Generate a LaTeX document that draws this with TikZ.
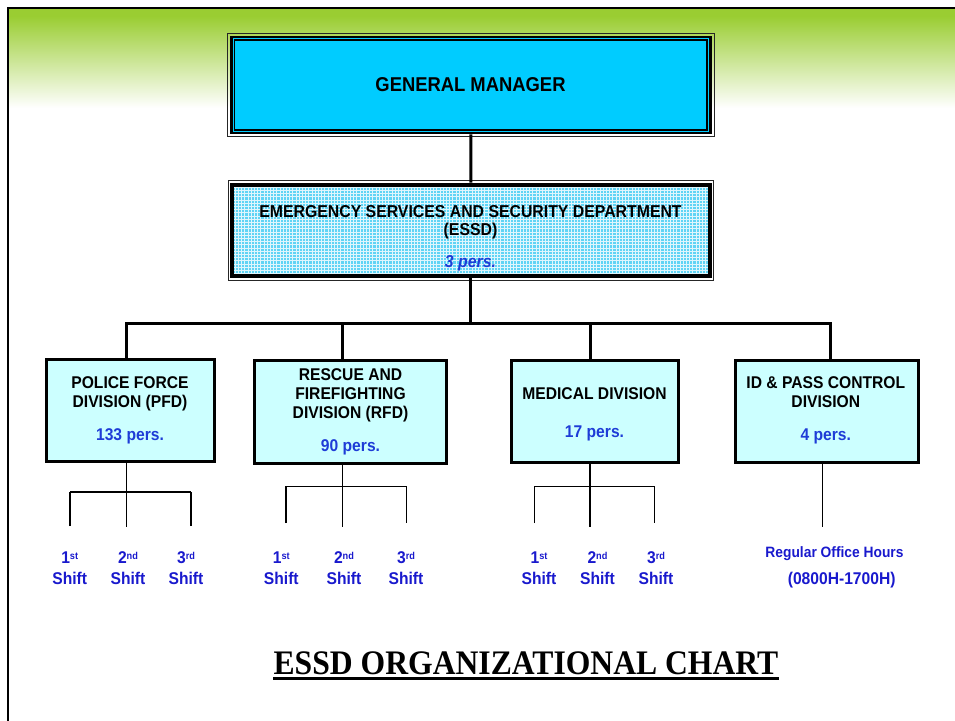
\documentclass[tikz,border=0pt]{standalone}
\usepackage{fontspec}
\setmainfont{Liberation Sans}[FakeStretch=0.92]
\newfontfamily\titleserif{Liberation Serif}[FakeStretch=0.92]
\usetikzlibrary{calc,patterns}

\definecolor{headgreen}{RGB}{154,205,50}
\definecolor{gmcyan}{RGB}{0,204,255}
\definecolor{essdcyan}{RGB}{95,212,245}
\definecolor{essdlight}{RGB}{222,246,253}
\definecolor{divcyan}{RGB}{204,255,255}
\definecolor{persblue}{RGB}{30,60,215}
\definecolor{shiftblue}{RGB}{25,25,205}

\newcommand\ptsize[2]{\fontsize{#1}{#2}\selectfont}
\newcommand\ordsup[1]{\raisebox{4.5pt}{\ptsize{10}{10}#1}}
\newcommand\cellstack[1]{\begin{tabular}[t]{@{}c@{}}#1\end{tabular}}

% fine checked texture of the department box
\pgfdeclarepatternformonly{essdgrid}{\pgfqpoint{-1pt}{-1pt}}{\pgfqpoint{4.2pt}{4.2pt}}{\pgfqpoint{3.2pt}{3.2pt}}{
  \pgfsetlinewidth{0.9pt}
  \pgfpathmoveto{\pgfqpoint{0pt}{1.6pt}}\pgfpathlineto{\pgfqpoint{3.2pt}{1.6pt}}
  \pgfpathmoveto{\pgfqpoint{1.6pt}{0pt}}\pgfpathlineto{\pgfqpoint{1.6pt}{3.2pt}}
  \pgfusepath{stroke}}

\tikzset{
  frameline/.style={line width=2.5pt},
  gmbox/.style={draw, line width=2.7pt, fill=gmcyan, inner sep=0pt},
  essdbox/.style={draw, line width=4pt, inner sep=0pt,
    preaction={fill=essdcyan}, preaction={pattern=essdgrid, pattern color=essdlight}},
  divbox/.style={draw, line width=3pt, fill=divcyan, inner sep=0pt},
  thinframe/.style={line width=1pt, black!85},
  innerframe/.style={line width=1.1pt},
  gmtext/.style={anchor=base, inner sep=0pt, font={\bfseries\ptsize{20}{24}}},
  essdtext/.style={anchor=base, inner sep=0pt, font={\bfseries\ptsize{17.2}{18.2}}},
  divtext/.style={anchor=base, inner sep=0pt, font={\bfseries\ptsize{17}{19.2}}},
  shiftlabel/.style={anchor=base, inner sep=0pt, text=shiftblue, font={\bfseries\ptsize{17}{21}}},
  hourlabel/.style={anchor=base, inner sep=0pt, text=shiftblue, font={\bfseries\ptsize{15}{18}}},
  conn/.style={line width=3pt},
  sub/.style={line width=1.4pt},
  subbar/.style={line width=2.3pt},
}

\begin{document}
\begin{tikzpicture}[x=1pt,y=-1pt]
\useasboundingbox (0,0) rectangle (955,720);
\clip (0,0) rectangle (955,720);

% page header band and frame
\fill[headgreen] (8,8) rectangle (960,16);
\shade[top color=headgreen, middle color=headgreen!40!white, bottom color=white] (8,16) rectangle (960,108);
\draw[frameline] (8,8) rectangle (1000,800);

% boxes
\node[gmbox, minimum width=479pt, minimum height=96pt] (gm) at (470.8,85) {};
\node[essdbox, minimum width=477.5pt, minimum height=91.3pt] (essd) at (470.75,230.35) {};
\node[divbox, minimum width=168pt, minimum height=102pt] (pfd) at (130.5,410.5) {};
\node[divbox, minimum width=191.4pt, minimum height=102.7pt] (rfd) at (350.5,412.15) {};
\node[divbox, minimum width=167pt, minimum height=102pt] (med) at (595,411.5) {};
\node[divbox, minimum width=182.7pt, minimum height=102pt] (idd) at (827.15,411.5) {};

% extra frame lines round the two top boxes
\draw[thinframe] ($(gm.north west)+(-2.4,-2)$) rectangle ($(gm.south east)+(2.4,2)$);
\draw[innerframe] ($(gm.north west)+(4.7,4.35)$) rectangle ($(gm.south east)+(-4.7,-4.35)$);
\draw[thinframe] ($(essd.north west)+(-2,-2)$) rectangle ($(essd.south east)+(2,2)$);

% box texts
\node[gmtext] (gm-label) at (470.5,91) {GENERAL MANAGER};
\node[essdtext] (essd-label) at (470.5,217.3)
  {\cellstack{EMERGENCY SERVICES AND SECURITY DEPARTMENT\\(ESSD)\\[13.8pt]{\color{persblue}\itshape 3 pers.}}};
\node[divtext] (pfd-label) at (130,388.3)
  {\cellstack{POLICE FORCE\\DIVISION (PFD)\\[13.7pt]{\color{persblue}133 pers.}}};
\node[divtext] (rfd-label) at (350.5,380)
  {\cellstack{RESCUE AND\\FIREFIGHTING\\DIVISION (RFD)\\[13.8pt]{\color{persblue}90 pers.}}};
\node[divtext] (med-label) at (594.5,399.3)
  {\cellstack{MEDICAL DIVISION\\[19pt]{\color{persblue}17 pers.}}};
\node[divtext] (idd-label) at (825.8,388.3)
  {\cellstack{ID \& PASS CONTROL\\DIVISION\\[13.7pt]{\color{persblue}4 pers.}}};

% main connectors
\coordinate (bus-l) at (126.5,323.5);
\coordinate (bus-rfd) at (342.5,323.5);
\coordinate (bus-med) at (590.5,323.5);
\coordinate (bus-r) at (830.5,323.5);
\draw[conn] (gm) -- (essd);
\draw[conn] (essd.south) -- (essd.south |- bus-l);
\draw[conn] (bus-l |- pfd.north) -- (bus-l) -- (bus-r) -- (bus-r |- idd.north);
\draw[conn] (bus-rfd) -- (bus-rfd |- rfd.north);
\draw[conn] (bus-med) -- (bus-med |- med.north);

% shift branches
\coordinate (pfd-drop) at (126.7,527);
\coordinate (pfd-bar-l) at (70,491.7);
\coordinate (pfd-bar-r) at (191,491.7);
\coordinate (pfd-leg-l) at (70,526);
\coordinate (pfd-leg-r) at (191,526);
\draw[sub] (pfd-drop |- pfd.south) -- (pfd-drop);
\draw[sub] (pfd-leg-l) -- (pfd-bar-l);
\draw[sub] (pfd-leg-r) -- (pfd-bar-r);
\draw[subbar] (pfd-bar-l) -- (pfd-bar-r);

\coordinate (rfd-drop) at (342.3,527);
\coordinate (rfd-leg-l) at (286,523);
\coordinate (rfd-bar-r) at (406.7,486.7);
\coordinate (rfd-leg-r) at (406.7,523);
\draw[sub] (rfd-drop |- rfd.south) -- (rfd-drop);
\draw[sub] (rfd-leg-l) |- (rfd-bar-r) -- (rfd-leg-r);

\coordinate (med-drop) at (590,527);
\coordinate (med-leg-l) at (534.3,523);
\coordinate (med-bar-r) at (654.3,486.7);
\coordinate (med-leg-r) at (654.3,523);
\draw[sub] (med-drop |- med.south) -- (med-drop);
\draw[sub] (med-leg-l) |- (med-bar-r) -- (med-leg-r);

\coordinate (idd-drop) at (822.3,527.3);
\draw[sub] (idd-drop |- idd.south) -- (idd-drop);

% shift labels
\node[shiftlabel] (pfd-s1) at (69.7,563.5) {\cellstack{1\ordsup{st}\\Shift}};
\node[shiftlabel] (pfd-s2) at (128,563.5) {\cellstack{2\ordsup{nd}\\Shift}};
\node[shiftlabel] (pfd-s3) at (186,563.5) {\cellstack{3\ordsup{rd}\\Shift}};
\node[shiftlabel] (rfd-s1) at (281.3,563.5) {\cellstack{1\ordsup{st}\\Shift}};
\node[shiftlabel] (rfd-s2) at (344,563.5) {\cellstack{2\ordsup{nd}\\Shift}};
\node[shiftlabel] (rfd-s3) at (406,563.5) {\cellstack{3\ordsup{rd}\\Shift}};
\node[shiftlabel] (med-s1) at (539,563.5) {\cellstack{1\ordsup{st}\\Shift}};
\node[shiftlabel] (med-s2) at (597.5,563.5) {\cellstack{2\ordsup{nd}\\Shift}};
\node[shiftlabel] (med-s3) at (656,563.5) {\cellstack{3\ordsup{rd}\\Shift}};
\node[hourlabel] (idd-hours) at (834.5,557.3) {Regular Office Hours};
\node[shiftlabel] (idd-time) at (841.7,584.5) {(0800H-1700H)};

% chart title
\node[anchor=base, inner sep=0pt, font={\titleserif\bfseries\ptsize{34.4}{40}}] (title) at (526,674) {ESSD ORGANIZATIONAL CHART};
\draw[line width=2.2pt] ($(title.base west)+(0,4.5)$) -- ($(title.base east)+(0,4.5)$);
\end{tikzpicture}
\end{document}
